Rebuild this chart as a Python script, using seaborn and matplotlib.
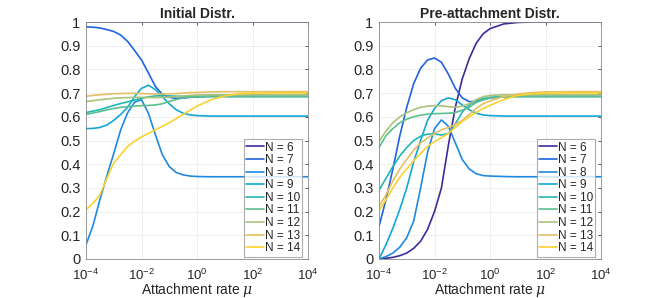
import numpy as np
import pandas as pd
import matplotlib
matplotlib.use('Agg')
import matplotlib.pyplot as plt
import seaborn as sns
from matplotlib.ticker import FixedLocator, NullLocator

# log10 of attachment rate mu, shared by all curves
log_mu = [-4, -3.75, -3.5, -3.25, -3, -2.75, -2.5, -2.25, -2, -1.75, -1.5, -1.25,
          -1, -0.75, -0.5, -0.25, 0, 0.5, 1, 1.5, 2, 3, 4]
sizes = [6, 7, 8, 9, 10, 11, 12, 13, 14]
colors = ['#3d2b9c', '#2163df', '#2088dd', '#12a7d6', '#22b6b3', '#5bbf8e',
          '#aac37a', '#e4bf63', '#fbd22f']

# Initial Distr.
init_6 = [1.0] * 23
init_7 = [0.98, 0.978, 0.975, 0.968, 0.96, 0.945, 0.918, 0.88, 0.84, 0.785, 0.728, 0.695,
          0.682, 0.678, 0.679, 0.682, 0.684, 0.686, 0.686, 0.686, 0.686, 0.686, 0.686]
init_8 = [0.06, 0.14, 0.25, 0.35, 0.445, 0.545, 0.617, 0.662, 0.672, 0.615, 0.525, 0.44,
          0.39, 0.365, 0.355, 0.35, 0.348, 0.347, 0.347, 0.347, 0.347, 0.347, 0.347]
init_9 = [0.55, 0.551, 0.555, 0.565, 0.585, 0.61, 0.64, 0.685, 0.72, 0.733, 0.715, 0.685,
          0.655, 0.63, 0.615, 0.608, 0.605, 0.603, 0.603, 0.603, 0.603, 0.603, 0.603]
init_10 = [0.618, 0.624, 0.63, 0.639, 0.648, 0.656, 0.663, 0.671, 0.678, 0.684, 0.688, 0.689,
           0.688, 0.687, 0.686, 0.686, 0.686, 0.686, 0.686, 0.686, 0.686, 0.686, 0.686]
init_11 = [0.61, 0.616, 0.622, 0.629, 0.635, 0.64, 0.643, 0.645, 0.647, 0.648, 0.65, 0.655,
           0.665, 0.673, 0.68, 0.683, 0.685, 0.686, 0.686, 0.686, 0.686, 0.686, 0.686]
init_12 = [0.664, 0.668, 0.672, 0.675, 0.678, 0.68, 0.681, 0.682, 0.682, 0.682, 0.681, 0.682,
           0.683, 0.685, 0.688, 0.69, 0.692, 0.693, 0.693, 0.693, 0.693, 0.693, 0.693]
init_13 = [0.687, 0.69, 0.693, 0.695, 0.697, 0.698, 0.699, 0.699, 0.698, 0.697, 0.696, 0.696,
           0.697, 0.698, 0.7, 0.702, 0.703, 0.705, 0.706, 0.706, 0.706, 0.706, 0.706]
init_14 = [0.208, 0.235, 0.27, 0.34, 0.405, 0.44, 0.475, 0.497, 0.515, 0.53, 0.545, 0.56,
           0.575, 0.592, 0.61, 0.628, 0.645, 0.672, 0.688, 0.697, 0.7, 0.701, 0.701]

# Pre-attachment Distr.
pre_6 = [0.0, 0.003, 0.007, 0.014, 0.025, 0.045, 0.075, 0.125, 0.2, 0.3, 0.48, 0.64,
         0.76, 0.845, 0.91, 0.95, 0.972, 0.992, 0.998, 1.0, 1.0, 1.0, 1.0]
pre_7 = [0.137, 0.25, 0.38, 0.52, 0.64, 0.74, 0.805, 0.84, 0.848, 0.83, 0.78, 0.72,
         0.68, 0.664, 0.665, 0.672, 0.68, 0.685, 0.686, 0.686, 0.686, 0.686, 0.686]
pre_8 = [0.0, 0.01, 0.025, 0.05, 0.09, 0.16, 0.3, 0.45, 0.55, 0.587, 0.56, 0.49,
         0.42, 0.38, 0.36, 0.352, 0.35, 0.348, 0.347, 0.347, 0.347, 0.347, 0.347]
pre_9 = [0.0, 0.06, 0.13, 0.21, 0.3, 0.41, 0.5, 0.585, 0.635, 0.668, 0.68, 0.672,
         0.65, 0.63, 0.615, 0.608, 0.605, 0.603, 0.603, 0.603, 0.603, 0.603, 0.603]
pre_10 = [0.29, 0.34, 0.39, 0.435, 0.47, 0.5, 0.518, 0.527, 0.528, 0.523, 0.53, 0.57,
          0.62, 0.65, 0.668, 0.677, 0.682, 0.685, 0.686, 0.686, 0.686, 0.686, 0.686]
pre_11 = [0.47, 0.52, 0.55, 0.575, 0.59, 0.6, 0.607, 0.611, 0.613, 0.614, 0.615, 0.618,
          0.628, 0.64, 0.66, 0.672, 0.68, 0.685, 0.686, 0.686, 0.686, 0.686, 0.686]
pre_12 = [0.495, 0.54, 0.575, 0.6, 0.617, 0.63, 0.64, 0.645, 0.647, 0.646, 0.643, 0.64,
          0.645, 0.655, 0.672, 0.685, 0.69, 0.693, 0.693, 0.693, 0.693, 0.693, 0.693]
pre_13 = [0.222, 0.27, 0.33, 0.38, 0.42, 0.46, 0.49, 0.51, 0.53, 0.545, 0.555, 0.567,
          0.585, 0.61, 0.635, 0.655, 0.667, 0.686, 0.696, 0.702, 0.705, 0.706, 0.706]
pre_14 = [0.205, 0.25, 0.3, 0.345, 0.38, 0.415, 0.445, 0.475, 0.495, 0.512, 0.53, 0.555,
          0.58, 0.6, 0.618, 0.635, 0.648, 0.673, 0.69, 0.697, 0.7, 0.701, 0.701]

init_curves = [init_6, init_7, init_8, init_9, init_10, init_11, init_12, init_13, init_14]
pre_curves = [pre_6, pre_7, pre_8, pre_9, pre_10, pre_11, pre_12, pre_13, pre_14]
titles = ['Initial Distr.', 'Pre-attachment Distr.']

sns.set_style('white')
plt.rcParams['font.family'] = ['Liberation Sans', 'DejaVu Sans']
plt.rcParams['mathtext.fontset'] = 'custom'
plt.rcParams['mathtext.rm'] = 'Liberation Sans'
plt.rcParams['mathtext.it'] = 'DejaVu Serif:italic'

fig = plt.figure(figsize=(6.64, 2.98), dpi=100)
axes = [fig.add_axes([86 / 664, 39 / 298, 222 / 664, 237 / 298]),
        fig.add_axes([379 / 664, 39 / 298, 222 / 664, 237 / 298])]

mu = [10.0 ** d for d in log_mu]
for ax, curves, title in zip(axes, [init_curves, pre_curves], titles):
    rows = []
    for n, ys in zip(sizes, curves):
        for x, y in zip(mu, ys):
            rows.append({'mu': x, 'value': y, 'N': 'N = %d' % n})
    df = pd.DataFrame(rows)
    ax.set_xscale('log')
    sns.lineplot(data=df, x='mu', y='value', hue='N', palette=colors,
                 estimator=None, sort=False, linewidth=1.2, ax=ax)
    ax.set_xlim(1e-4, 1e4)
    ax.set_ylim(0, 1)
    ax.xaxis.set_major_locator(FixedLocator([1e-4, 1e-2, 1e0, 1e2, 1e4]))
    ax.xaxis.set_minor_locator(NullLocator())
    ax.set_xticklabels(['$10^{-4}$', '$10^{-2}$', '$10^{0}$', '$10^{2}$', '$10^{4}$'])
    ax.set_yticks(np.arange(0, 1.01, 0.1))
    ax.set_yticklabels(['0', '0.1', '0.2', '0.3', '0.4', '0.5', '0.6', '0.7', '0.8', '0.9', '1'])
    ax.grid(True, color='#ebebeb', linewidth=0.6)
    ax.set_axisbelow(True)
    ax.tick_params(direction='in', length=2.5, width=0.6, color='#444444',
                   top=True, right=True)
    ax.tick_params(axis='x', pad=6, labelsize=9.5)
    ax.tick_params(axis='y', pad=4, labelsize=10.5)
    for s in ax.spines.values():
        s.set_color('#8a8a8a')
        s.set_linewidth(0.6)
    ax.set_title(title, fontsize=10, fontweight='bold', pad=3)
    ax.set_xlabel(r'Attachment rate $\mu$', fontsize=10, labelpad=-1)
    ax.set_ylabel('')
    leg = ax.legend(loc='lower right', bbox_to_anchor=(0.975, 0.01), fontsize=8.5,
                    frameon=True, fancybox=False, handlelength=1.5, handletextpad=0.1,
                    borderpad=0.2, labelspacing=0.05, borderaxespad=0.0, title=None)
    leg.get_frame().set_edgecolor('#999999')
    leg.get_frame().set_linewidth(0.8)

fig.savefig('out.png', dpi=100)
